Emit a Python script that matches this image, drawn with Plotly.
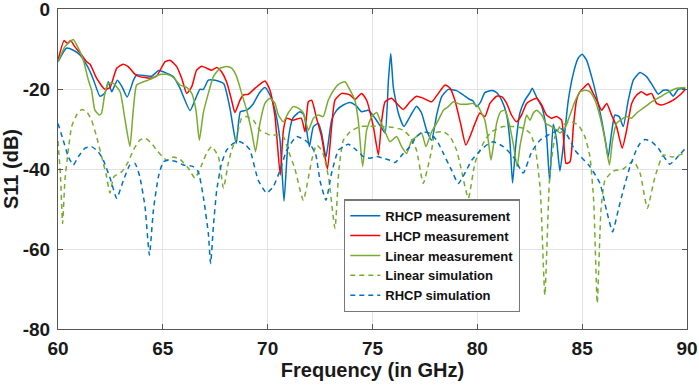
import plotly.graph_objects as go

# ---------------- data ----------------
rhcp_meas_f = [60.0, 60.4, 60.73, 61.05, 61.45, 61.7, 62.0, 62.24, 62.4, 62.56, 62.83, 63.04, 63.3, 63.6, 63.75,
               64.2, 64.47, 64.8, 65.2, 65.5, 65.8, 66.3, 66.53, 66.77, 66.93, 67.17, 67.5, 67.9, 68.2, 68.5, 68.7,
               69.0, 69.3, 69.6, 69.87, 70.11, 70.35, 70.59, 70.78, 70.98, 71.2, 71.54, 71.73, 71.99, 72.18, 72.42,
               72.57, 72.78, 73.05, 73.29, 73.61, 73.93, 74.24, 74.48, 74.8, 75.12, 75.44, 75.6, 75.76, 75.87, 75.99,
               76.23, 76.5, 76.79, 77.1, 77.34, 77.58, 77.82, 78.06, 78.3, 78.62, 79.01, 79.33, 79.6, 79.8, 79.96,
               80.16, 80.36, 80.68, 80.92, 81.16, 81.4, 81.55, 81.68, 81.84, 82.03, 82.27, 82.51, 82.62, 82.83, 83.07,
               83.27, 83.45, 83.62, 83.78, 83.94, 84.13, 84.34, 84.58, 84.81, 85.0, 85.21, 85.45, 85.69, 85.93, 86.13,
               86.24, 86.4, 86.56, 86.77, 86.96, 87.2, 87.44, 87.76, 88.07, 88.39, 88.63, 88.87, 89.1, 89.34, 89.58,
               89.92]
rhcp_meas_db = [-13.2, -9.8, -10.3, -11.5, -14.8, -17.8, -21.8, -21.0, -18.2, -20.7, -17.8, -19.3, -22.0, -17.8, -16.5,
                -16.7, -16.8, -15.4, -16.1, -16.9, -19.6, -25.4, -22.8, -20.1, -20.1, -17.8, -17.8, -18.6, -24.8, -33.6, -25.7,
                -25.3, -23.8, -21.0, -19.6, -21.5, -25.3, -32.8, -48.0, -32.8, -27.3, -25.7, -26.5, -34.4, -29.4, -28.6,
                -31.0, -37.0, -27.8, -25.3, -24.0, -23.4, -24.3, -25.7, -25.3, -27.3, -29.8, -31.0, -17.8, -11.1, -19.4,
                -26.0, -29.4, -26.9, -24.3, -26.0, -30.3, -32.8, -26.5, -21.9, -20.1, -20.4, -21.5, -22.5, -23.0, -24.4,
                -23.2, -20.9, -20.4, -20.9, -22.8, -26.5, -32.8, -43.5, -33.6, -26.0, -22.8, -20.9, -19.8, -22.1, -24.4,
                -29.4, -43.0, -28.8, -32.8, -40.5, -32.8, -22.8, -16.1, -12.3, -11.3, -12.8, -16.9, -21.9, -27.8, -33.6,
                -37.0, -31.0, -26.5, -26.9, -29.4, -22.8, -17.8, -15.9, -16.9, -19.4, -21.3, -20.3, -20.3, -21.8, -20.1,
                -19.8]

lhcp_meas_f = [60.0, 60.29, 60.45, 60.6, 60.8, 61.13, 61.37, 61.53, 61.84, 62.24, 62.48, 62.8, 63.1, 63.35, 63.67,
               63.9, 64.39, 64.7, 65.1, 65.34, 65.66, 65.9, 66.14, 66.38, 66.61, 66.85, 67.09, 67.33, 67.57, 67.8,
               68.04, 68.28, 68.44, 68.68, 68.84, 69.08, 69.4, 69.87, 70.11, 70.35, 70.6, 70.75, 70.9, 71.2, 71.6,
               71.78, 71.94, 72.1, 72.33, 72.57, 72.85, 73.05, 73.21, 73.53, 73.93, 74.16, 74.48, 74.72, 75.04, 75.28,
               75.44, 75.6, 75.91, 76.15, 76.47, 76.79, 77.1, 77.42, 77.82, 78.14, 78.46, 78.7, 78.93, 79.2, 79.45,
               79.65, 79.89, 80.12, 80.36, 80.6, 80.92, 81.16, 81.4, 81.63, 81.87, 82.11, 82.35, 82.59, 82.83, 83.07,
               83.3, 83.54, 83.78, 84.02, 84.23, 84.42, 84.58, 84.73, 84.89, 85.13, 85.29, 85.45, 85.69, 85.93, 86.17,
               86.4, 86.64, 86.91, 87.12, 87.36, 87.6, 87.83, 88.07, 88.31, 88.55, 88.79, 89.03, 89.34, 89.66, 89.92]
lhcp_meas_db = [-12.8, -7.9, -8.6, -7.9, -9.4, -11.5, -13.2, -13.8, -17.3, -20.1, -19.6, -14.8, -13.8, -14.4, -16.3,
                -16.9, -17.3, -16.8, -13.2, -12.8, -14.4, -17.3, -21.1, -19.4, -15.3, -14.3, -14.8, -15.3, -14.6, -15.7,
                -18.2, -22.8, -25.9, -22.8, -21.5, -21.3, -19.8, -18.0, -20.3, -26.9, -41.5, -30.3, -27.3, -27.8, -27.3,
                -30.7, -23.2, -22.8, -27.3, -31.9, -40.0, -29.4, -22.8, -21.1, -21.5, -22.6, -21.1, -22.8, -29.4, -36.5,
                -27.8, -23.2, -22.3, -23.6, -25.1, -23.2, -21.8, -22.3, -23.2, -21.1, -19.0, -19.8, -22.8, -28.6, -34.0,
                -31.9, -28.6, -26.0, -26.9, -23.6, -21.8, -21.9, -23.6, -26.5, -28.2, -26.5, -23.6, -22.8, -22.3, -24.0,
                -26.5, -27.3, -26.9, -27.8, -38.6, -38.2, -29.4, -22.8, -20.7, -19.4, -18.6, -20.3, -22.8, -25.3, -23.6,
                -26.5, -29.4, -34.8, -30.3, -23.6, -21.5, -20.7, -21.5, -21.1, -23.6, -24.0, -23.6, -22.8, -21.5, -20.1]

lin_meas_f = [60.0, 60.33, 60.57, 60.73, 60.97, 61.21, 61.45, 61.6, 61.76, 61.97, 62.08, 62.24, 62.4, 62.64, 62.96,
              63.2, 63.43, 63.59, 63.75, 64.07, 64.39, 64.79, 65.18, 65.5, 65.82, 66.14, 66.38, 66.58, 66.74, 66.93,
              67.17, 67.41, 67.73, 68.04, 68.28, 68.52, 68.76, 69.0, 69.25, 69.42, 69.63, 69.87, 70.11, 70.35, 70.51,
              70.75, 70.98, 71.22, 71.46, 71.7, 71.94, 72.18, 72.42, 72.65, 72.89, 73.21, 73.45, 73.69, 73.93, 74.16,
              74.32, 74.53, 74.72, 74.96, 75.2, 75.36, 75.6, 75.83, 76.15, 76.39, 76.63, 76.87, 77.1, 77.34, 77.55,
              77.82, 78.14, 78.38, 78.62, 78.86, 79.17, 79.49, 79.8, 80.04, 80.2, 80.36, 80.52, 80.65, 80.76, 80.92,
              81.11, 81.32, 81.48, 81.71, 81.9, 82.03, 82.22, 82.35, 82.51, 82.67, 82.83, 83.07, 83.27, 83.54, 83.78,
              83.94, 84.18, 84.42, 84.65, 84.89, 85.13, 85.37, 85.61, 85.85, 86.09, 86.3, 86.45, 86.64, 86.88, 87.12,
              87.36, 87.6, 87.91, 88.31, 88.71, 89.1, 89.5, 89.92]
lin_meas_db = [-13.2, -9.4, -8.2, -7.6, -9.8, -12.8, -17.8, -20.3, -25.3, -26.5, -26.0, -21.0, -18.6, -18.6, -20.7,
               -27.8, -34.4, -25.3, -19.0, -18.2, -17.6, -16.5, -16.3, -17.1, -19.0, -19.6, -21.1, -25.3, -32.8, -26.0,
               -21.1, -16.9, -14.8, -14.4, -14.8, -16.9, -21.1, -25.3, -31.0, -35.7, -28.6, -23.6, -22.3, -23.6, -26.5,
               -28.2, -26.0, -24.4, -24.8, -26.0, -30.3, -27.3, -26.5, -26.9, -22.8, -19.8, -18.6, -18.2, -20.3, -22.8,
               -27.8, -39.4, -30.3, -26.9, -25.9, -27.8, -30.7, -33.2, -31.9, -34.4, -36.1, -32.8, -31.9, -31.0, -34.4,
               -30.7, -27.8, -25.3, -24.4, -23.2, -23.8, -23.8, -23.6, -24.4, -26.0, -27.8, -32.8, -37.8, -34.4, -28.6,
               -25.7, -25.3, -27.8, -33.6, -39.4, -34.4, -29.4, -26.5, -27.8, -26.0, -25.3, -26.5, -28.6, -29.4, -30.3,
               -31.0, -29.8, -26.5, -23.2, -20.7, -20.3, -20.7, -22.8, -26.9, -32.8, -39.0, -32.8, -28.6, -27.6, -26.9,
               -27.3, -26.0, -24.8, -23.2, -22.0, -20.8, -19.8, -19.6]

lin_sim_f = [60.0, 60.12, 60.22, 60.33, 60.49, 60.65, 60.89, 61.13, 61.37, 61.6, 61.84, 62.08, 62.3, 62.48, 62.67,
             63.04, 63.35, 63.59, 63.9, 64.15, 64.45, 64.7, 65.18, 65.5, 65.82, 66.22, 66.53, 66.85, 67.09, 67.33,
             67.65, 67.89, 68.12, 68.28, 68.52, 68.76, 69.0, 69.32, 69.63, 70.11, 70.43, 70.75, 70.98, 71.3, 71.7,
             72.1, 72.33, 72.6, 72.9, 73.21, 73.4, 73.61, 73.93, 74.4, 74.88, 75.52, 76.0, 76.47, 76.79, 77.1,
             77.42, 77.82, 77.98, 78.38, 78.7, 79.01, 79.17, 79.57, 79.88, 80.12, 80.4, 80.68, 81.24, 81.71, 82.19,
             82.51, 82.75, 83.0, 83.22, 83.45, 83.7, 83.94, 84.42, 84.81, 85.13, 85.37, 85.55, 85.72, 85.9, 86.09,
             86.49, 86.96, 87.44, 87.76, 88.11, 88.47, 88.87, 89.3, 89.92]
lin_sim_db = [-33.0, -42.0, -53.6, -42.8, -35.3, -29.4, -26.5, -25.1, -25.7, -27.8, -31.9, -36.9, -41.5, -46.0, -41.9,
              -40.7, -38.2, -35.3, -32.8, -32.3, -33.5, -35.3, -37.8, -37.0, -37.6, -39.8, -42.3, -39.0, -36.0, -34.4,
              -36.9, -44.8, -38.6, -35.3, -31.9, -27.3, -26.9, -27.8, -30.3, -31.5, -31.5, -31.9, -35.3, -40.0, -47.8,
              -37.8, -34.0, -35.5, -42.0, -54.8, -40.0, -32.8, -30.7, -29.4, -29.3, -29.4, -29.6, -30.3, -31.9, -35.3,
              -43.6, -35.3, -31.0, -30.7, -31.9, -35.3, -38.6, -47.3, -38.6, -35.3, -32.5, -30.7, -29.4, -29.4, -29.8,
              -31.0, -34.4, -45.0, -71.5, -42.0, -32.0, -29.4, -28.2, -29.0, -31.9, -36.9, -48.0, -73.6, -50.0, -42.8,
              -40.5, -40.0, -38.0, -41.0, -49.8, -42.0, -36.5, -37.0, -36.0]

rhcp_sim_f = [60.0, 60.25, 60.49, 60.73, 60.97, 61.29, 61.6, 61.92, 62.16, 62.5, 62.8, 63.12, 63.43, 63.67, 63.9,
              64.15, 64.36, 64.55, 64.79, 65.02, 65.26, 65.66, 65.98, 66.45, 66.69, 66.93, 67.17, 67.28, 67.41, 67.57,
              67.8, 68.04, 68.36, 68.68, 68.95, 69.16, 69.55, 69.95, 70.27, 70.59, 70.91, 71.38, 71.78, 72.1, 72.3,
              72.5, 72.78, 73.05, 73.37, 73.61, 73.85, 74.24, 74.56, 74.88, 75.2, 75.52, 75.83, 76.07, 76.47, 76.79,
              77.1, 77.42, 77.74, 78.06, 78.38, 78.77, 79.09, 79.41, 79.73, 80.12, 80.45, 80.76, 81.24, 81.71, 82.19,
              82.59, 82.99, 83.38, 83.7, 83.94, 84.18, 84.42, 84.65, 85.37, 85.85, 86.16, 86.45, 86.72, 86.96, 87.28,
              87.6, 87.76, 88.0, 88.31, 88.63, 88.95, 89.18, 89.5, 89.92]
rhcp_sim_db = [-28.6, -32.8, -36.9, -39.0, -36.9, -34.8, -34.4, -35.7, -37.8, -42.5, -47.3, -42.8, -39.0, -38.6, -41.9,
               -49.4, -61.5, -50.3, -41.9, -38.2, -37.8, -38.2, -39.0, -39.4, -40.7, -46.9, -56.1, -63.6, -54.4, -45.3,
               -38.6, -35.3, -33.6, -33.2, -34.0, -35.3, -42.8, -46.0, -44.4, -40.3, -35.3, -31.9, -32.8, -34.4, -36.5,
               -43.0, -47.8, -41.0, -35.3, -34.4, -33.8, -35.3, -36.9, -37.3, -36.9, -37.3, -37.8, -38.4, -36.1, -34.4,
               -31.9, -30.7, -31.1, -32.8, -36.1, -40.3, -43.6, -41.0, -37.8, -35.5, -34.0, -33.2, -34.4, -36.9, -41.0,
               -35.7, -32.8, -31.5, -30.7, -29.8, -30.7, -32.8, -35.3, -39.4, -43.6, -50.3, -55.7, -50.3, -45.3, -39.4,
               -35.0, -33.6, -32.6, -33.2, -34.8, -37.3, -38.8, -37.3, -34.8]

x_ticks = [60, 65, 70, 75, 80, 85, 90]
y_ticks = [-80, -60, -40, -20, 0]
y_tick_text = ["-80", "-60", "-40", "-20", "0"]

BLUE = "#0072BD"
RED = "#FF0000"
GREEN = "#77AC30"

# ---------------- figure ----------------
fig = go.Figure()
series = [
    ("RHCP measurement", rhcp_meas_f, rhcp_meas_db, BLUE, "solid"),
    ("LHCP measurement", lhcp_meas_f, lhcp_meas_db, RED, "solid"),
    ("Linear measurement", lin_meas_f, lin_meas_db, GREEN, "solid"),
    ("Linear simulation", lin_sim_f, lin_sim_db, GREEN, "dash"),
    ("RHCP simulation", rhcp_sim_f, rhcp_sim_db, BLUE, "dash"),
]
for name, xs, ys, col, dash in series:
    fig.add_trace(go.Scatter(
        x=xs, y=ys, mode="lines", name=name,
        line=dict(color=col, width=1.5, dash=dash if dash == "solid" else "5px,4px",
                  shape="spline", smoothing=0.5),
    ))

FONT = "Liberation Sans, Arial, sans-serif"
tick_font = dict(family=FONT, size=19, color="#1a1a1a", weight="bold")
title_font = dict(family=FONT, size=20, color="#1a1a1a", weight="bold")

fig.update_layout(
    width=699, height=388,
    margin=dict(l=58, r=12, t=9, b=59, autoexpand=False),
    paper_bgcolor="white", plot_bgcolor="white",
    showlegend=True,
    legend=dict(
        x=0.4547, y=0.405, xanchor="left", yanchor="top",
        bgcolor="white", bordercolor="#777777", borderwidth=1.3,
        font=dict(family=FONT, size=13, color="#111111", weight="bold"),
        tracegroupgap=0, itemwidth=30,
    ),
)
fig.update_xaxes(
    range=[60, 90], tickvals=x_ticks, ticktext=[str(t) for t in x_ticks],
    tickfont=tick_font, ticklabelstandoff=2, automargin=False, ticklabeloverflow="allow",
    title=dict(text="Frequency (in GHz)", font=title_font, standoff=3),
    showgrid=True, gridcolor="#e3e3e3", gridwidth=1,
    showline=True, linecolor="#555555", linewidth=1, mirror="allticks",
    ticks="inside", ticklen=5, tickcolor="#555555", zeroline=False,
)
fig.update_yaxes(
    range=[-80, 0], tickvals=y_ticks, ticktext=y_tick_text,
    tickfont=tick_font, ticklabelstandoff=3, automargin=False, ticklabeloverflow="allow",
    title=dict(text="S11 (dB)", font=title_font, standoff=4),
    showgrid=True, gridcolor="#e3e3e3", gridwidth=1,
    showline=True, linecolor="#555555", linewidth=1, mirror="allticks",
    ticks="inside", ticklen=5, tickcolor="#555555", zeroline=False,
)

fig.write_html("out.html", config={"displayModeBar": False},
               post_script="document.body.style.margin='0';document.body.style.overflow='hidden';")
